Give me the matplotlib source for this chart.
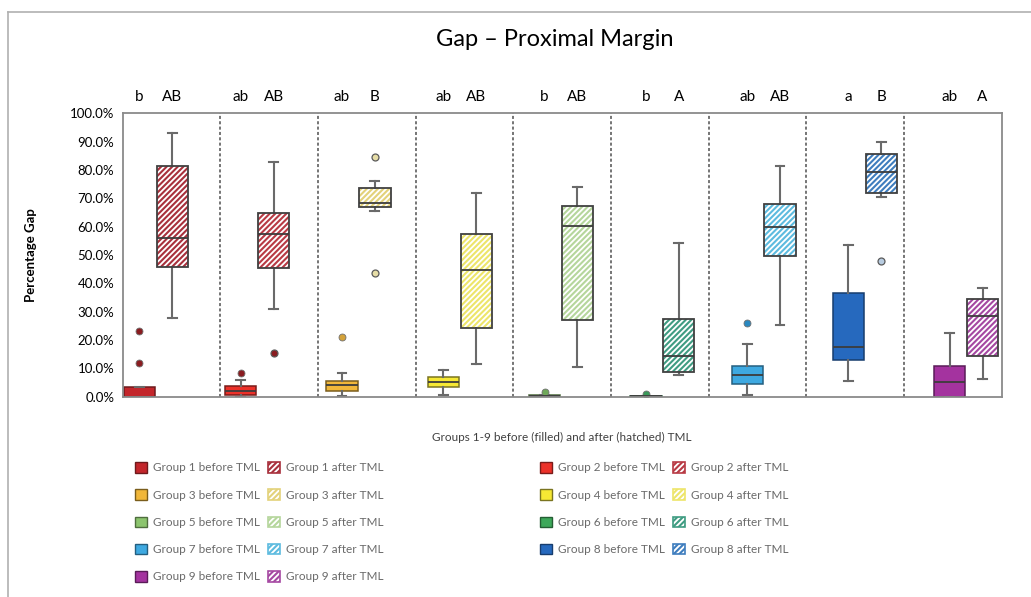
import matplotlib
matplotlib.use("Agg")
import matplotlib.pyplot as plt
from matplotlib.patches import Patch, PathPatch
from matplotlib.lines import Line2D
from matplotlib.ticker import PercentFormatter
import matplotlib.transforms as mtransforms

plt.rcParams["font.family"] = ["Lato", "DejaVu Sans"]
plt.rcParams["hatch.linewidth"] = 1.5

# --- data (percentage gap, 0-100) -------------------------------------------
groups = [f"Group {i}" for i in range(1, 10)]

# before TML: (whislo, q1, med, q3, whishi)
before_stats = [
    (0.0, 0.0, 0.0, 3.4, 3.4),
    (0.0, 0.4, 2.0, 3.6, 6.0),
    (0.3, 2.0, 4.1, 5.4, 8.2),
    (0.4, 3.5, 5.2, 6.8, 9.3),
    (0.0, 0.0, 0.1, 0.4, 0.4),
    (0.0, 0.0, 0.1, 0.3, 0.3),
    (0.4, 4.4, 7.6, 10.9, 18.6),
    (5.5, 12.9, 17.4, 36.5, 53.4),
    (0.0, 0.0, 5.0, 10.9, 22.3),
]
before_outliers = [[23.3, 12.0], [8.4], [21.1], [], [1.6], [1.0], [25.9], [], []]

# after TML
after_stats = [
    (27.6, 45.9, 55.9, 81.4, 93.0),
    (30.8, 45.3, 57.4, 64.7, 83.0),
    (65.7, 66.9, 68.3, 73.6, 76.1),
    (11.4, 24.3, 44.6, 57.4, 71.8),
    (10.3, 27.0, 60.2, 67.2, 74.0),
    (7.7, 8.8, 14.3, 27.3, 54.3),
    (25.2, 49.8, 60.0, 67.9, 81.4),
    (70.6, 71.8, 79.2, 85.6, 89.8),
    (6.1, 14.3, 28.4, 34.5, 38.4),
]
after_outliers = [[], [15.3], [84.7, 43.5], [], [], [], [], [48.0], []]

letters_before = ["b", "ab", "ab", "ab", "b", "b", "ab", "a", "ab"]
letters_after = ["AB", "AB", "B", "AB", "AB", "A", "AB", "B", "A"]

# colours
fill_colors = ["#C3262B", "#EC3129", "#F1B73A", "#F6E834", "#8CC56E",
               "#3DA85A", "#3EA9E1", "#2669BE", "#A4339F"]
hatch_colors = ["#A8303C", "#B83A44", "#E3D27A", "#EDE56A", "#B5D69C",
                "#3F9C82", "#5DBBDF", "#3E7DBE", "#A548A2"]
edge_colors = ["#6E1A1C", "#7A1C1A", "#7A5D1C", "#7A7420", "#4F6E3E",
               "#245E34", "#245F80", "#173D6E", "#5A1C58"]
flier_before = ["#8A1C20", "#8A1C20", "#D4A23A", "#D8D2A0", "#6FA85A",
                "#3A9A5A", "#2A88C0", "#A8BCD4", "#7A2A78"]
flier_after = ["#8A1C20", "#8A1C20", "#E6DDA6", "#E6DDA6", "#B5D69C",
               "#3F9C82", "#5DBBDF", "#B8CCE0", "#A548A2"]

# --- figure -------------------------------------------------------------------
fig = plt.figure(figsize=(10.31, 5.97), dpi=100)
ax = fig.add_axes([0.119, 0.3358, 0.8526, 0.4741])

n = len(groups)
pos_before = [0.172 + i * 1.037 for i in range(n)]
pos_after = [p + 0.336 for p in pos_before]


def make_stats(stats, outliers):
    out = []
    for (lo, q1, med, q3, hi), fl in zip(stats, outliers):
        out.append(dict(whislo=lo / 100, q1=q1 / 100, med=med / 100,
                        q3=q3 / 100, whishi=hi / 100,
                        fliers=[v / 100 for v in fl]))
    return out


common = dict(widths=0.32, patch_artist=True, showfliers=True,
              manage_ticks=False, capwidths=0.09,
              whiskerprops=dict(color="#6a6a6a", lw=1.5),
              capprops=dict(color="#6a6a6a", lw=1.5),
              medianprops=dict(color="#3c3c3c", lw=1.3))

bp_b = ax.bxp(make_stats(before_stats, before_outliers), positions=pos_before, **common)
bp_a = ax.bxp(make_stats(after_stats, after_outliers), positions=pos_after, **common)

for i in range(n):
    box = bp_b["boxes"][i]
    box.set_facecolor(fill_colors[i])
    box.set_edgecolor(edge_colors[i])
    box.set_linewidth(1.1)
    fl = bp_b["fliers"][i]
    fl.set(marker="o", markersize=5, markerfacecolor=flier_before[i],
           markeredgecolor="#707070", markeredgewidth=0.6)

    # hatched box: hatch drawn in group colour, outline added on top
    box = bp_a["boxes"][i]
    box.set_facecolor("white")
    box.set_edgecolor(hatch_colors[i])
    box.set_hatch("//////")
    box.set_linewidth(0)
    outline = PathPatch(box.get_path(), fill=False, edgecolor="#404040",
                        lw=1.3, zorder=box.get_zorder() + 0.1)
    ax.add_patch(outline)
    fl = bp_a["fliers"][i]
    fl.set(marker="o", markersize=5, markerfacecolor=flier_after[i],
           markeredgecolor="#5a5a5a", markeredgewidth=0.9)
    bp_a["medians"][i].set_zorder(box.get_zorder() + 0.2)

# panel dividers
for k in range(1, n):
    ax.axvline(k, color="#505050", lw=1.1, ls=(0, (2, 1.5)), zorder=0.5)

ax.set_xlim(0, n)
ax.set_ylim(0, 1)
ax.set_yticks([i / 10 for i in range(11)])
ax.yaxis.set_major_formatter(PercentFormatter(1.0, decimals=1))
ax.tick_params(axis="y", length=0, labelsize=9.5, pad=6)
ax.set_xticks([])
for s in ax.spines.values():
    s.set_color("#8a8a8a")
    s.set_linewidth(1.3)

# significance letters
trans = mtransforms.blended_transform_factory(ax.transData, ax.transAxes)
for pb, pa, lb, la in zip(pos_before, pos_after, letters_before, letters_after):
    ax.text(pb, 1.058, lb, transform=trans, ha="center", va="center", fontsize=11)
    ax.text(pa, 1.058, la, transform=trans, ha="center", va="center", fontsize=11)

ax.set_ylabel("Percentage Gap", fontsize=9.5, fontweight="bold", labelpad=24)
fig.text(0.538, 0.934, "Gap \u2013 Proximal Margin", ha="center", va="center", fontsize=17)
fig.text(0.545, 0.268, "Groups 1-9 before (filled) and after (hatched) TML",
         ha="center", va="center", fontsize=8.5, color="#404040")

# legends
def handles_for(idx):
    hb = [Patch(facecolor=fill_colors[i], edgecolor=edge_colors[i], lw=1) for i in idx]
    ha = [Patch(facecolor="white", edgecolor=hatch_colors[i], hatch="//////", lw=1.2) for i in idx]
    lb = [f"{groups[i]} before TML" for i in idx]
    la = [f"{groups[i]} after TML" for i in idx]
    return hb + ha, lb + la

legend_kw = dict(ncol=2, frameon=False, fontsize=8.5, labelcolor="#6a6a6a",
                 handlelength=1.0, handleheight=1.0, handletextpad=0.5,
                 columnspacing=0.7, labelspacing=1.35, borderpad=0,
                 borderaxespad=0, loc="upper left")
h, l = handles_for([0, 2, 4, 6, 8])
fig.legend(h, l, bbox_to_anchor=(0.131, 0.226), **legend_kw)
h, l = handles_for([1, 3, 5, 7])
fig.legend(h, l, bbox_to_anchor=(0.524, 0.226), **legend_kw)

# outer border (left and top)
fig.add_artist(Line2D([0.008, 0.008], [0.0, 0.980], transform=fig.transFigure,
                      color="#b0b0b0", lw=1.2))
fig.add_artist(Line2D([0.008, 1.0], [0.980, 0.980], transform=fig.transFigure,
                      color="#b0b0b0", lw=1.2))

fig.savefig("out.png", dpi=100)
